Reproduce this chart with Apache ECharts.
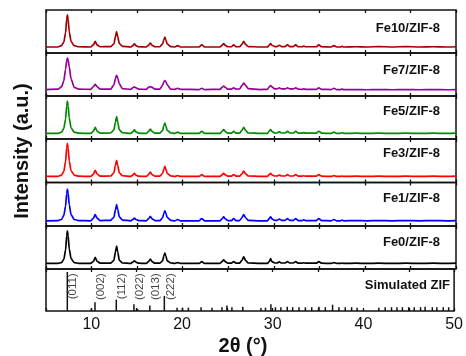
<!DOCTYPE html>
<html><head><meta charset="utf-8">
<script src="https://cdn.jsdelivr.net/npm/echarts@6/dist/echarts.min.js"></script>
<style>html,body{margin:0;padding:0;background:#fff}#c{width:466px;height:356px}</style>
</head><body><div id="c"></div>
<script>
// 2θ sample positions shared by all measured patterns
var twoTheta = [5,6.3,6.7,6.95,7.15,7.27,7.35,7.43,7.55,7.75,8.1,8.6,
 9.9,10.2,10.4,10.6,10.95,
 12.1,12.45,12.62,12.75,12.88,13.05,13.4,
 14.3,14.52,14.7,14.88,15.15,
 16.0,16.25,16.45,16.65,16.95,
 17.5,17.8,17.94,18.05,18.16,18.3,18.7,
 19.15,19.45,19.75,
 21.8,22.1,22.4,
 24.1,24.32,24.5,24.68,24.95,
 25.35,25.6,25.85,
 26.25,26.5,26.7,26.9,27.2,
 28.5,
 29.3,29.5,29.65,29.8,30.1,
 30.35,30.6,30.85,
 31.25,31.5,31.75,
 32.15,32.4,32.7,
 33.1,33.3,33.5,
 34.65,34.95,35.25,
 36.3,36.6,36.9,
 37.3,37.5,37.7,
 39,40.2,41.5,43,44.5,46,47.5,49,50];

var fe10 = [0.14,0.14,0.17,0.25,0.47,0.78,0.89,0.78,0.5,0.27,0.17,0.145,
 0.14,0.19,0.27,0.19,0.145,
 0.15,0.21,0.38,0.50,0.37,0.22,0.155,
 0.14,0.17,0.21,0.17,0.145,
 0.14,0.18,0.23,0.18,0.145,
 0.145,0.21,0.31,0.37,0.3,0.21,0.15,
 0.14,0.17,0.14,
 0.14,0.19,0.14,
 0.14,0.18,0.22,0.18,0.145,
 0.145,0.19,0.145,
 0.145,0.2,0.27,0.2,0.15,
 0.14,
 0.14,0.18,0.22,0.18,0.15,
 0.15,0.18,0.15,
 0.15,0.19,0.15,
 0.15,0.19,0.145,
 0.145,0.16,0.145,
 0.145,0.19,0.145,
 0.14,0.17,0.14,
 0.14,0.155,0.14,
 0.145,0.14,0.15,0.14,0.15,0.14,0.145,0.14,0.145];

var fe7 = [0.15,0.16,0.21,0.35,0.62,0.82,0.88,0.84,0.68,0.4,0.2,0.16,
 0.155,0.22,0.27,0.22,0.16,
 0.16,0.26,0.4,0.48,0.41,0.28,0.17,
 0.155,0.19,0.21,0.19,0.16,
 0.155,0.2,0.22,0.2,0.16,
 0.16,0.25,0.33,0.36,0.33,0.26,0.16,
 0.155,0.18,0.155,
 0.15,0.18,0.15,
 0.155,0.2,0.23,0.2,0.16,
 0.16,0.19,0.16,
 0.165,0.24,0.30,0.25,0.17,
 0.15,
 0.155,0.21,0.24,0.21,0.165,
 0.165,0.19,0.165,
 0.165,0.19,0.165,
 0.165,0.19,0.16,
 0.155,0.165,0.155,
 0.155,0.19,0.155,
 0.15,0.18,0.15,
 0.15,0.16,0.15,
 0.15,0.145,0.15,0.145,0.15,0.145,0.15,0.145,0.15];

var fe5 = [0.13,0.13,0.16,0.24,0.46,0.77,0.88,0.77,0.49,0.26,0.16,0.135,
 0.13,0.18,0.27,0.185,0.135,
 0.14,0.21,0.39,0.52,0.38,0.21,0.145,
 0.13,0.165,0.21,0.165,0.135,
 0.13,0.175,0.23,0.175,0.135,
 0.135,0.2,0.31,0.37,0.3,0.2,0.14,
 0.13,0.16,0.13,
 0.13,0.18,0.13,
 0.13,0.175,0.22,0.175,0.135,
 0.135,0.18,0.135,
 0.135,0.2,0.27,0.2,0.14,
 0.13,
 0.13,0.18,0.22,0.175,0.14,
 0.14,0.17,0.14,
 0.14,0.18,0.14,
 0.14,0.18,0.135,
 0.135,0.15,0.135,
 0.135,0.18,0.135,
 0.13,0.16,0.13,
 0.13,0.145,0.13,
 0.135,0.13,0.135,0.13,0.135,0.13,0.135,0.13,0.135];

var fe3 = [0.14,0.14,0.17,0.25,0.48,0.79,0.90,0.79,0.5,0.27,0.17,0.145,
 0.14,0.19,0.28,0.195,0.145,
 0.15,0.22,0.39,0.51,0.38,0.22,0.155,
 0.14,0.17,0.21,0.17,0.145,
 0.14,0.18,0.24,0.18,0.145,
 0.145,0.21,0.31,0.37,0.3,0.21,0.15,
 0.14,0.16,0.14,
 0.14,0.18,0.14,
 0.14,0.175,0.21,0.175,0.145,
 0.145,0.18,0.145,
 0.145,0.2,0.26,0.2,0.15,
 0.14,
 0.14,0.18,0.21,0.175,0.15,
 0.15,0.17,0.15,
 0.15,0.18,0.15,
 0.15,0.18,0.145,
 0.145,0.155,0.145,
 0.145,0.18,0.145,
 0.14,0.16,0.14,
 0.14,0.15,0.14,
 0.145,0.14,0.145,0.14,0.145,0.14,0.145,0.14,0.145];

var fe1 = [0.12,0.125,0.15,0.24,0.46,0.74,0.85,0.75,0.49,0.26,0.15,0.125,
 0.12,0.18,0.26,0.18,0.125,
 0.13,0.2,0.37,0.49,0.37,0.21,0.135,
 0.12,0.15,0.18,0.15,0.125,
 0.12,0.165,0.22,0.165,0.125,
 0.125,0.19,0.29,0.35,0.29,0.2,0.13,
 0.12,0.15,0.12,
 0.12,0.17,0.12,
 0.12,0.165,0.21,0.165,0.125,
 0.125,0.17,0.125,
 0.125,0.19,0.26,0.19,0.13,
 0.12,
 0.12,0.17,0.21,0.165,0.13,
 0.13,0.16,0.13,
 0.13,0.17,0.13,
 0.13,0.17,0.125,
 0.125,0.14,0.125,
 0.125,0.17,0.125,
 0.12,0.15,0.12,
 0.12,0.135,0.12,
 0.125,0.12,0.125,0.12,0.125,0.12,0.125,0.12,0.125];

var fe0 = [0.13,0.13,0.15,0.22,0.44,0.77,0.89,0.77,0.47,0.24,0.15,0.13,
 0.13,0.175,0.27,0.18,0.135,
 0.135,0.2,0.4,0.53,0.39,0.2,0.14,
 0.13,0.16,0.19,0.16,0.135,
 0.13,0.17,0.23,0.17,0.135,
 0.135,0.19,0.31,0.37,0.3,0.19,0.14,
 0.13,0.15,0.13,
 0.13,0.17,0.13,
 0.13,0.17,0.21,0.17,0.135,
 0.135,0.17,0.135,
 0.135,0.2,0.28,0.2,0.14,
 0.13,
 0.13,0.17,0.24,0.17,0.14,
 0.14,0.165,0.14,
 0.14,0.17,0.14,
 0.14,0.17,0.135,
 0.135,0.145,0.135,
 0.135,0.17,0.135,
 0.13,0.15,0.13,
 0.13,0.14,0.13,
 0.135,0.13,0.135,0.13,0.135,0.13,0.135,0.13,0.135];

// Simulated ZIF-8 reflections (stick pattern)
var simPos = [7.35,10.0,10.4,12.75,14.7,15.1,16.45,18.05,19.45,20.05,20.7,22.1,23.3,24.4,24.95,25.5,26.7,
 28.7,29.2,29.8,30.3,30.9,31.6,32.2,32.9,33.6,34.3,35.1,35.8,36.6,37.3,38.0,38.7,39.3,
 41.7,42.4,43.1,43.7,44.3,45.0,45.6,46.3,46.8,47.6,48.1,48.8,49.4];
var simInt = [0.93,0.06,0.21,0.27,0.16,0.05,0.13,0.36,0.08,0.08,0.08,0.09,0.08,0.09,0.13,0.09,0.1,
 0.07,0.08,0.16,0.09,0.09,0.1,0.09,0.09,0.09,0.09,0.1,0.09,0.15,0.09,0.09,0.09,0.08,
 0.08,0.09,0.09,0.09,0.09,0.09,0.09,0.09,0.1,0.09,0.09,0.09,0.09];
var simHkl = ['(011)','(002)','(112)','(022)','(013)','(222)'];
var simHklPos = [7.35,10.4,12.75,14.7,16.45,18.05];

var panelNames = ['Fe10/ZIF-8','Fe7/ZIF-8','Fe5/ZIF-8','Fe3/ZIF-8','Fe1/ZIF-8','Fe0/ZIF-8','Simulated ZIF'];
var panelColors = ['#a00000','#990099','#008a00','#ff0000','#0000ff','#000000','#000000'];
var patterns = [fe10, fe7, fe5, fe3, fe1, fe0];
var xTickLabels = [10,20,30,40,50];

var FONT = '"Liberation Sans", Arial, sans-serif';
var chart = echarts.init(document.getElementById('c'), null, {renderer:'canvas'});
var grids = [], xAxes = [], yAxes = [], series = [], graphics = [];
var tops = [10,53,96,139,182.5,226,269];
var heights = [43,43,43,43.5,43.5,43,42];
var labelCy = [30,71.5,113,155,200,244,287];
for (var i = 0; i < 7; i++) {
  grids.push({left:46, right:10, top:tops[i], height:heights[i], show:true, borderColor:'#111', borderWidth:1.5, backgroundColor:'transparent'});
  var last = (i === 6);
  ['bottom','top'].forEach(function(pos){
    xAxes.push({gridIndex:i, type:'value', position:pos, min:5, max:50, interval:5,
      axisLine:{show:false}, splitLine:{show:false},
      axisTick:{show:true, inside:true, length:3, lineStyle:{color:'#111', width:1.3}},
      axisLabel:{show: last && pos==='bottom', margin:6, fontFamily:FONT, fontSize:16, color:'#111',
        formatter:function(v){ return xTickLabels.indexOf(v) >= 0 ? String(v) : ''; }}
    });
  });
  yAxes.push({gridIndex:i, type:'value', min:0, max:1, show:false});
  if (i < 6) {
    series.push({type:'line', xAxisIndex:2*i, yAxisIndex:i, showSymbol:false, silent:true,
      smooth:0.25, smoothMonotone:'x', clip:true,
      lineStyle:{color:panelColors[i], width:1.7},
      data: twoTheta.map(function(x,j){ return [x, patterns[i][j]]; })});
  }
  graphics.push({type:'text', right: last ? 16 : 26, top: labelCy[i]-8,
    style:{text:panelNames[i], font:'bold 13px '+FONT, fill:'#111'}});
}
// simulated sticks
series.push({type:'bar', xAxisIndex:12, yAxisIndex:6, barWidth:1.5, silent:true,
  itemStyle:{color:'#111'},
  data: simPos.map(function(x,j){ return [x, simInt[j]]; }),
  label:{show:false}});
// hkl labels attached to the main reflections
series.push({type:'scatter', xAxisIndex:12, yAxisIndex:6, symbolSize:0, silent:true,
  data: simHklPos.map(function(x,j){ return {value:[x, 0.97], name:simHkl[j]}; }),
  label:{show:true, position:'inside', rotate:90, formatter:function(p){return p.name;},
    fontFamily:FONT, fontSize:11.5, color:'#111', align:'right', verticalAlign:'top', offset:[-3,0]}});

graphics.push({type:'text', x:22, y:151, rotation:Math.PI/2,
  style:{text:'Intensity (a.u.)', font:'bold 20px '+FONT, fill:'#111', textAlign:'center', textVerticalAlign:'middle'}});
graphics.push({type:'text', x:243, y:346,
  style:{text:'2θ (°)', font:'bold 20px '+FONT, fill:'#111', textAlign:'center', textVerticalAlign:'middle'}});

chart.setOption({animation:false, backgroundColor:'#fff', grid:grids, xAxis:xAxes, yAxis:yAxes, series:series, graphic:graphics});
</script></body></html>
